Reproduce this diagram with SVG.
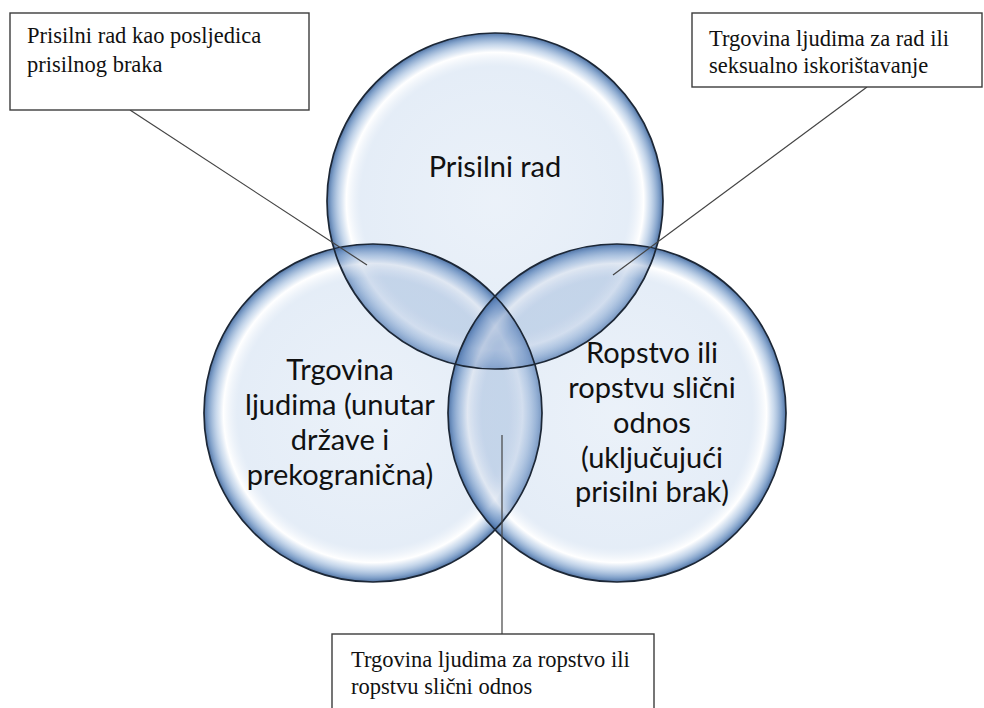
<svg xmlns="http://www.w3.org/2000/svg" width="984" height="708" viewBox="0 0 984 708">
<style>
.circ{fill:url(#bub)}
.rim{fill:none;stroke:#1c2736;stroke-width:1.7}
.ov{fill:#5a82b9;fill-opacity:0.14}
.box{fill:#ffffff;stroke:#3c3c3c;stroke-width:1.4}
.bt{font-family:"Liberation Serif","Times New Roman",serif;font-size:22.5px;fill:#111}
.ct{font-family:Lato,"Open Sans",sans-serif;font-size:29px;fill:#111;text-anchor:middle}
.con{stroke:#444;stroke-width:1.2;fill:none}
</style>
<defs>
<radialGradient id="bub" cx="0.5" cy="0.5" r="0.5">
<stop offset="0" stop-color="#c6d8ee" stop-opacity="0.35"/>
<stop offset="0.8" stop-color="#c0d4ec" stop-opacity="0.42"/>
<stop offset="0.885" stop-color="#ffffff" stop-opacity="0.65"/>
<stop offset="0.925" stop-color="#abc4e2" stop-opacity="0.6"/>
<stop offset="0.975" stop-color="#6189bc" stop-opacity="0.8"/>
<stop offset="1" stop-color="#3d6398" stop-opacity="0.9"/>
</radialGradient>
<clipPath id="cA"><circle cx="495" cy="201" r="168"/></clipPath>
<clipPath id="cB"><circle cx="373" cy="413" r="169"/></clipPath>
<clipPath id="cC"><circle cx="617" cy="413" r="169"/></clipPath>
</defs>
<rect width="984" height="708" fill="#ffffff"/>
<g id="circle-prisilni-rad">
<circle class="circ" cx="495" cy="201" r="168"/>
</g>
<g id="circle-trgovina">
<circle class="circ" cx="373" cy="413" r="169"/>
</g>
<g id="circle-ropstvo">
<circle class="circ" cx="617" cy="413" r="169"/>
</g>
<g id="overlaps">
<circle class="ov" cx="373" cy="413" r="169" clip-path="url(#cA)"/>
<circle class="ov" cx="617" cy="413" r="169" clip-path="url(#cA)"/>
<circle class="ov" cx="617" cy="413" r="169" clip-path="url(#cB)"/>
</g>
<g id="outlines">
<circle class="rim" cx="495" cy="201" r="168"/>
<circle class="rim" cx="373" cy="413" r="169"/>
<circle class="rim" cx="617" cy="413" r="169"/>
</g>
<g id="labels">
<text class="ct" x="495" y="177">Prisilni rad</text>
<text class="ct" x="340" y="380">Trgovina</text>
<text class="ct" x="340" y="415">ljudima (unutar</text>
<text class="ct" x="340" y="450">države i</text>
<text class="ct" x="340" y="485">prekogranična)</text>
<text class="ct" x="652" y="363">Ropstvo ili</text>
<text class="ct" x="652" y="398">ropstvu slični</text>
<text class="ct" x="652" y="433">odnos</text>
<text class="ct" x="652" y="468">(uključujući</text>
<text class="ct" x="652" y="502">prisilni brak)</text>
</g>
<g id="connectors">
<line class="con" x1="130" y1="110" x2="367" y2="265"/>
<line class="con" x1="867" y1="87" x2="613" y2="275"/>
<line class="con" x1="502" y1="435" x2="502" y2="634"/>
</g>
<g id="box-prisilni-brak">
<rect class="box" x="10" y="13" width="299" height="97"/>
<text class="bt" x="27" y="43">Prisilni rad kao posljedica</text>
<text class="bt" x="27" y="72">prisilnog braka</text>
</g>
<g id="box-trgovina-rad">
<rect class="box" x="692" y="13" width="290" height="74"/>
<text class="bt" x="709" y="46">Trgovina ljudima za rad ili</text>
<text class="bt" x="709" y="73">seksualno iskorištavanje</text>
</g>
<g id="box-trgovina-ropstvo">
<rect class="box" x="332" y="634" width="322" height="80"/>
<text class="bt" x="351" y="667">Trgovina ljudima za ropstvo ili</text>
<text class="bt" x="351" y="694">ropstvu slični odnos</text>
</g>
</svg>
